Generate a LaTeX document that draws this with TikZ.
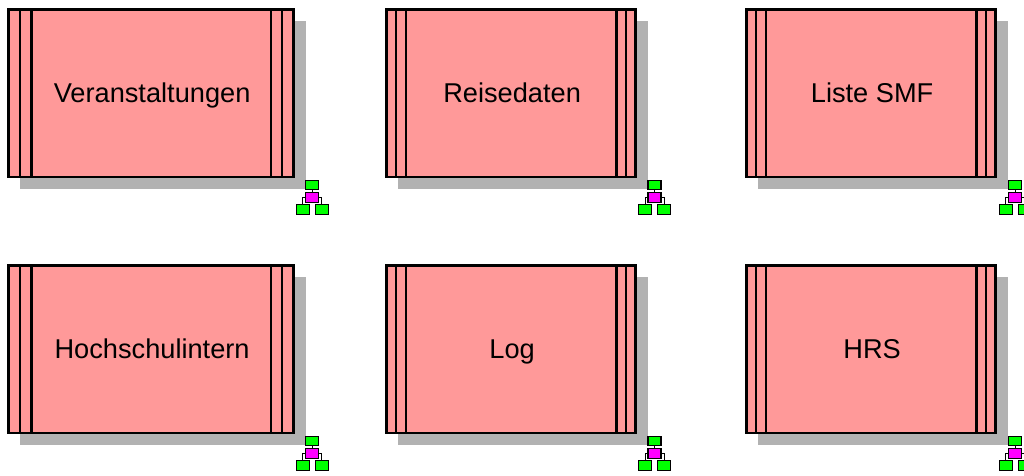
\documentclass[tikz,border=0pt]{standalone}
\usepackage{fontspec}
\setmainfont{Liberation Sans}
\usepackage{tikz}
\usetikzlibrary{positioning, calc}
\definecolor{boxred}{HTML}{FF9999}
\definecolor{shadowgray}{HTML}{B2B2B2}
\definecolor{icongreen}{HTML}{00FF00}
\definecolor{iconpink}{HTML}{FF00FF}
\tikzset{
  entity/.style={draw=black, line width=2.6pt, fill=boxred, minimum height=167.5pt, inner sep=0pt, outer sep=0pt,
    text height=21pt, text depth=2pt, font=\fontsize{27.2}{30}\selectfont},
  slab/.style={fill=shadowgray, draw=none},
  bar/.style={draw=black, line width=2.4pt},
  cell/.style={draw=black, line width=1.3pt, minimum width=13pt, minimum height=10.4pt, inner sep=0pt, outer sep=0pt},
  wire/.style={draw=black, line width=1pt},
}
\begin{document}
\begin{tikzpicture}[x=1pt, y=-1pt]
  \useasboundingbox (0,0) rectangle (1024,475);

  % Boxes: name / left / width / inset / top / label
  \foreach \n/\x/\w/\d/\y/\t in {a/8.7/284.8/11.4/9.5/Veranstaltungen, b/386.5/249.2/9.7/9.5/Reisedaten, c/746.5/249.2/9.7/9.5/Liste SMF,
      d/8.7/284.8/11.4/265.5/Hochschulintern, e/386.5/249.2/9.7/265.5/Log, f/746.5/249.2/9.7/265.5/HRS} {
    \fill[slab] (\x+11.3,\y+11.3) rectangle (\x+\w+12,\y+179.5);
    \node[entity, minimum width=\w pt, anchor=north west] (\n) at (\x,\y) {\kern2pt\t};
    \draw[bar] ($(\n.north west)+(\d,0)$) -- ($(\n.south west)+(\d,0)$);
    \draw[bar] ($(\n.north west)+(2*\d,0)$) -- ($(\n.south west)+(2*\d,0)$);
    \draw[bar] ($(\n.north east)+(-\d,0)$) -- ($(\n.south east)+(-\d,0)$);
    \draw[bar] ($(\n.north east)+(-2*\d,0)$) -- ($(\n.south east)+(-2*\d,0)$);
  }

  % Hierarchy icons
  \foreach \n/\x/\y in {a/312.3/185, b/654.5/185, c/1015.3/185, d/312.3/441, e/654.5/441, f/1015.3/441} {
    \node[cell, fill=icongreen, minimum height=8.6pt] (\n top) at (\x,\y) {};
    \node[cell, fill=iconpink, below=3pt of \n top] (\n mid) {};
    \node[cell, fill=icongreen] (\n left) at (\x-9.5,\y+24.5) {};
    \node[cell, fill=icongreen] (\n right) at (\x+9.5,\y+24.5) {};
    \draw[wire] (\n top) -- (\n mid);
    \draw[wire] (\n mid.west) -| (\n left.north);
    \draw[wire] (\n mid.east) -| (\n right.north);
  }
\end{tikzpicture}
\end{document}
